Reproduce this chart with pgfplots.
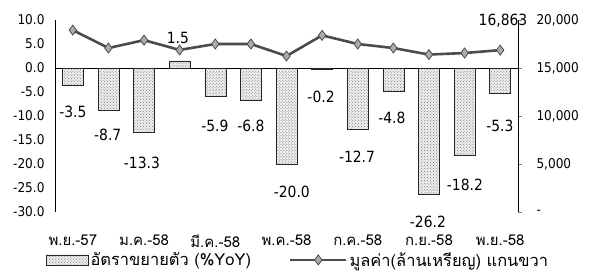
\documentclass[border=0pt]{standalone}
\usepackage{pgfplots}
\pgfplotsset{compat=1.18}
\usetikzlibrary{patterns}
\usepackage{fontspec}
\setmainfont{DejaVu Sans Condensed}
\newfontfamily\thai[Script=Thai]{Loma}
\pgfplotsset{
  barleg/.style={legend image code/.code={\draw[##1] (0bp,-5bp) rectangle (42bp,5bp);}},
  lineleg/.style={legend image code/.code={\draw[##1,mark repeat=2,mark phase=2] plot coordinates {(0bp,0bp) (28bp,0bp) (56bp,0bp)};}},
}
\begin{document}
\begin{tikzpicture}
\begin{axis}[
  scale only axis, width=463bp, height=192bp,
  xmin=-0.5, xmax=12.5, ymin=-30, ymax=10,
  axis y line*=left, axis x line*=bottom,
  x axis line style={draw=none},
  major tick length=0pt,
  xtick={0,2,4,6,8,10,12},
  xticklabels={พ.ย.-57,ม.ค.-58,มี.ค.-58,พ.ค.-58,ก.ค.-58,ก.ย.-58,พ.ย.-58},
  xticklabel style={font=\thai\fontsize{15}{15}\selectfont, yshift=-19bp},
  ytick={-30,-25,-20,-15,-10,-5,0,5,10},
  yticklabels={-30.0,-25.0,-20.0,-15.0,-10.0,-5.0,0.0,5.0,10.0},
  yticklabel style={font=\fontsize{13.5}{13.5}\selectfont, xshift=-7bp},
  extra y ticks={0}, extra y tick labels={},
  extra y tick style={grid=major, major grid style={black, line width=0.8pt}},
  clip=false,
]
\addplot[ybar, bar width=21bp, draw=black!85, fill=gray!12,
  postaction={pattern=crosshatch dots, pattern color=black!55}]
  coordinates {(0,-3.5) (1,-8.7) (2,-13.3) (3,1.5) (4,-5.9) (5,-6.8) (6,-20.0)
               (7,-0.2) (8,-12.7) (9,-4.8) (10,-26.2) (11,-18.2) (12,-5.3)};
\begin{scope}[every node/.style={font=\fontsize{15.5}{15.5}\selectfont}]
\node at (axis cs:0,-9.2) {-3.5};
\node at (axis cs:0.98,-14) {-8.7};
\node at (axis cs:1.94,-19.8) {-13.3};
\node at (axis cs:2.95,6.25) {1.5};
\node at (axis cs:3.99,-12.1) {-5.9};
\node at (axis cs:5.0,-12.1) {-6.8};
\node at (axis cs:6.15,-25.8) {-20.0};
\node at (axis cs:6.97,-6.0) {-0.2};
\node at (axis cs:7.98,-18.5) {-12.7};
\node at (axis cs:8.96,-10.4) {-4.8};
\node at (axis cs:9.97,-32.1) {-26.2};
\node at (axis cs:11.01,-24.4) {-18.2};
\node at (axis cs:11.99,-12.1) {-5.3};
\node at (axis cs:12.08,9.8) {16,863};
\end{scope}
\end{axis}
\begin{axis}[
  scale only axis, width=463bp, height=192bp,
  xmin=-0.5, xmax=12.5, ymin=0, ymax=20000,
  axis y line*=right, axis x line=none,
  scaled y ticks=false,
  tick align=outside, major tick length=4bp,
  ytick={0,5000,10000,15000,20000},
  yticklabels={-,{5,000},{10,000},{15,000},{20,000}},
  yticklabel style={font=\fontsize{13.5}{13.5}\selectfont, xshift=11bp},
  legend style={at={(axis description cs:0,0)}, anchor=north west, xshift=-12bp, yshift=-36bp,
    draw=none, fill=none, legend columns=2,
    font=\thai\fontsize{16.5}{16.5}\selectfont,
    /tikz/every even column/.append style={column sep=36bp}},
  clip=false,
]
\addlegendimage{barleg, draw=black!85, fill=gray!12,
  postaction={pattern=crosshatch dots, pattern color=black!55}}
\addlegendentry{อัตราขยายตัว (\%YoY)}
\addplot[lineleg, draw=black!70, line width=2.6pt, mark=diamond*, mark size=5pt,
  mark options={fill=gray!65, draw=black!70, line width=0.8pt}]
  coordinates {(0,18950) (1,17080) (2,17900) (3,16880) (4,17500) (5,17500) (6,16250)
               (7,18400) (8,17500) (9,17080) (10,16400) (11,16560) (12,16863)};
\addlegendentry{มูลค่า(ล้านเหรียญ) แกนขวา}
\end{axis}
\path[use as bounding box] (-55bp,-64bp) rectangle (538bp,212bp);
\end{tikzpicture}
\end{document}
